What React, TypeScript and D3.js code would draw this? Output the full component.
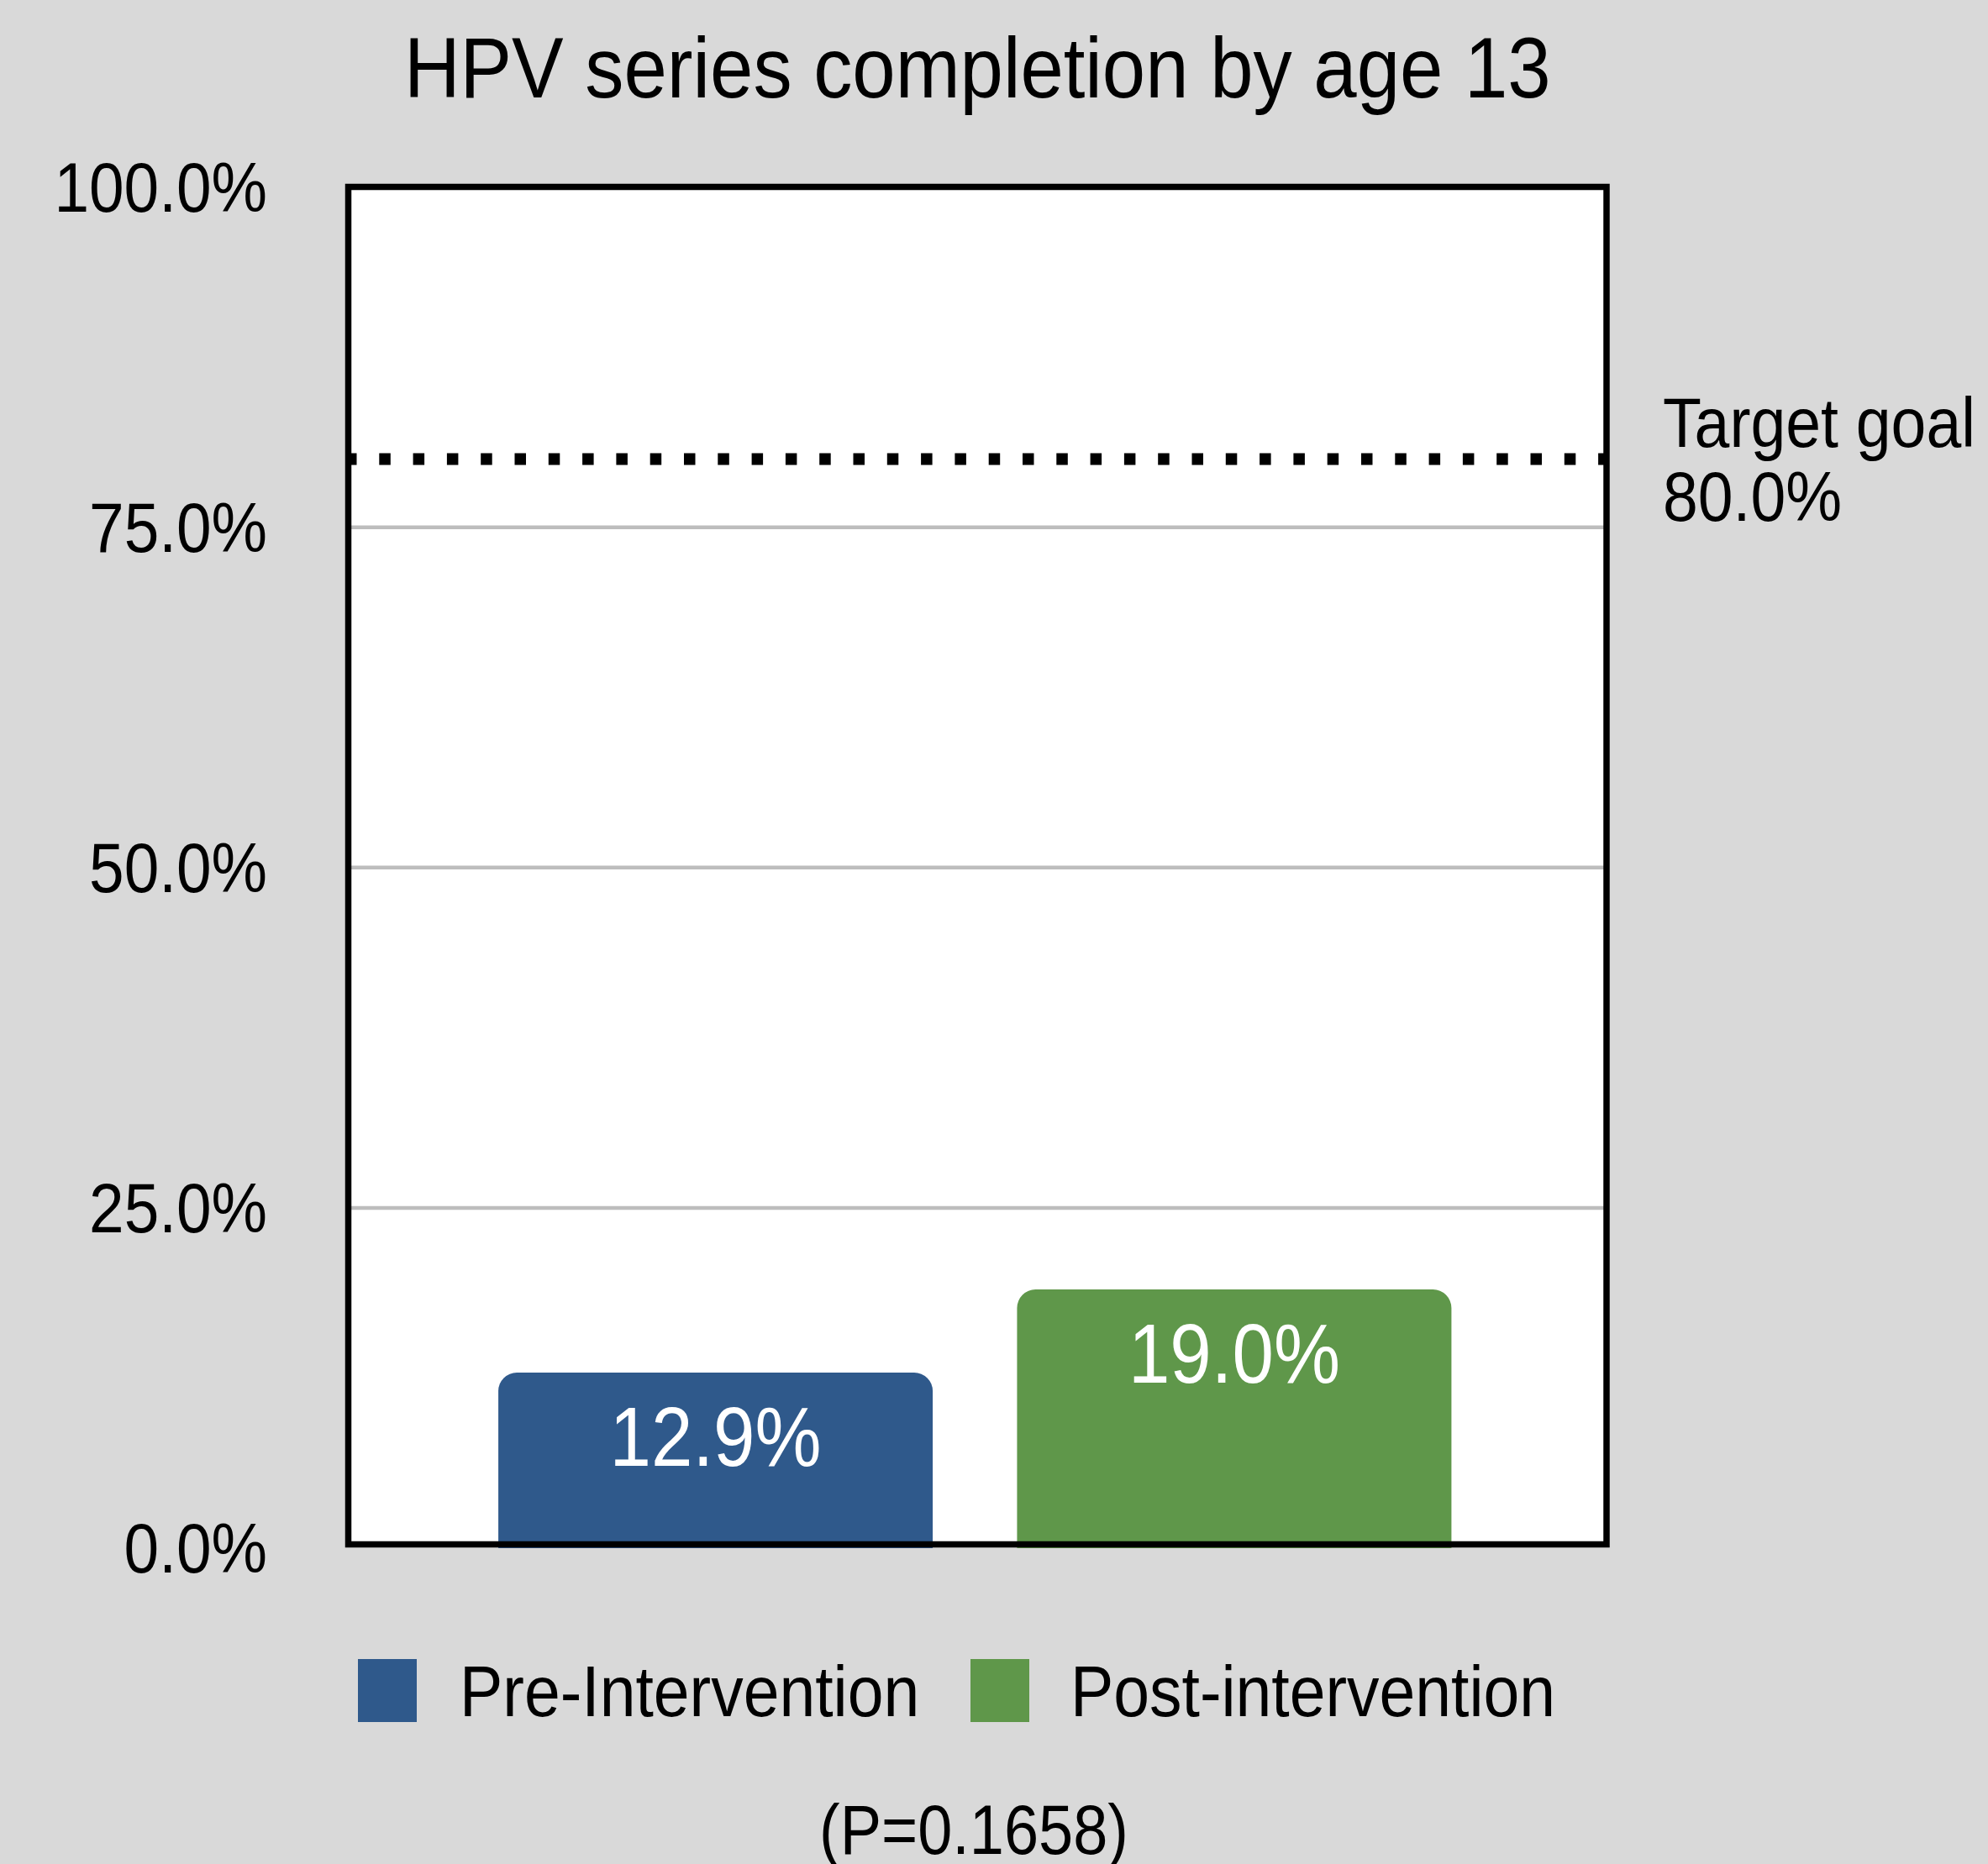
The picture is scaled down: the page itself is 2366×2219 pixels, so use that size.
import React from "react";
import * as d3 from "d3";

const categories = ["Pre-Intervention", "Post-intervention"];
const values = [12.9, 19.0];
const barColors = ["#2f598b", "#5f974a"];
const yTicks = [0, 25, 50, 75, 100];
const gridTicks = [25, 50, 75];
const targetValue = 80.0;
const titleText = "HPV series completion by age 13";
const pValueText = "(P=0.1658)";
const targetLabel = ["Target goal", "80.0%"];

const W = 2366;
const H = 2219;
const FONT = "'Liberation Sans', Arial, Helvetica, sans-serif";
const SX = 0.88;

const frame = { left: 414.5, right: 1912, top: 222.5, bottom: 1838.5 };

function T({ x, y, size, anchor = "start", fill = "#000", sx = SX, children }: any) {
  return (
    <g transform={`translate(${x},${y}) scale(${sx},1)`}>
      <text x={0} y={0} fontSize={size} fontFamily={FONT} textAnchor={anchor} fill={fill}>
        {children}
      </text>
    </g>
  );
}

function barPath(x0: number, x1: number, yTop: number, yBottom: number, r: number) {
  const p = d3.path();
  p.moveTo(x0, yBottom);
  p.lineTo(x0, yTop + r);
  p.arcTo(x0, yTop, x0 + r, yTop, r);
  p.lineTo(x1 - r, yTop);
  p.arcTo(x1, yTop, x1, yTop + r, r);
  p.lineTo(x1, yBottom);
  p.closePath();
  return p.toString();
}

export default function App() {
  const y = d3.scaleLinear().domain([0, 100]).range([1843, 222.5]);
  const x = d3
    .scaleBand<string>()
    .domain(categories)
    .range([frame.left - 6, frame.right])
    .paddingInner(0.1626)
    .paddingOuter(0.299);
  const fmt = (v: number) => d3.format(".1f")(v) + "%";

  const legendItems = [
    { sx: 426, tx: 547 },
    { sx: 1155, tx: 1274 },
  ];

  return (
    <svg
      width={W}
      height={H}
      style={{ position: "absolute", left: 0, top: 0, display: "block" }}
    >
      <rect x={0} y={0} width={W} height={H} fill="#d9d9d9" />
      <T x={(frame.left + frame.right) / 2} y={116} size={102} anchor="middle" sx={0.905}>
        {titleText}
      </T>
      <rect
        x={frame.left}
        y={frame.top}
        width={frame.right - frame.left}
        height={frame.bottom - frame.top}
        fill="#ffffff"
      />
      {gridTicks.map((t) => (
        <line
          key={t}
          x1={frame.left}
          x2={frame.right}
          y1={y(t)}
          y2={y(t)}
          stroke="#bdbdbd"
          strokeWidth={4.5}
        />
      ))}
      <line
        x1={411}
        x2={frame.right}
        y1={y(targetValue)}
        y2={y(targetValue)}
        stroke="#000"
        strokeWidth={14}
        strokeDasharray="13.5 26.8"
      />
      {categories.map((c, i) => {
        const x0 = x(c)!;
        const x1 = x0 + x.bandwidth();
        const top = y(values[i]);
        return (
          <g key={c}>
            <path d={barPath(x0, x1, top, y(0), 22)} fill={barColors[i]} />
            <T x={(x0 + x1) / 2} y={top + 111} size={101} anchor="middle" fill="#ffffff">
              {fmt(values[i])}
            </T>
          </g>
        );
      })}
      <rect
        x={frame.left}
        y={frame.top}
        width={frame.right - frame.left}
        height={frame.bottom - frame.top}
        fill="none"
        stroke="#000"
        strokeWidth={7.5}
      />
      {yTicks.map((t) => (
        <T key={t} x={318} y={y(t) + 29} size={84} anchor="end" sx={0.89}>
          {fmt(t)}
        </T>
      ))}
      <T x={1979} y={532} size={84} sx={0.895}>
        {targetLabel[0]}
      </T>
      <T x={1979} y={620} size={84} sx={0.895}>
        {targetLabel[1]}
      </T>
      {categories.map((c, i) => (
        <g key={c}>
          <rect x={legendItems[i].sx} y={1975} width={70} height={75} fill={barColors[i]} />
          <T x={legendItems[i].tx} y={2043} size={85} sx={0.905}>
            {c}
          </T>
        </g>
      ))}
      <T x={1159} y={2207} size={84} anchor="middle">
        {pValueText}
      </T>
    </svg>
  );
}
